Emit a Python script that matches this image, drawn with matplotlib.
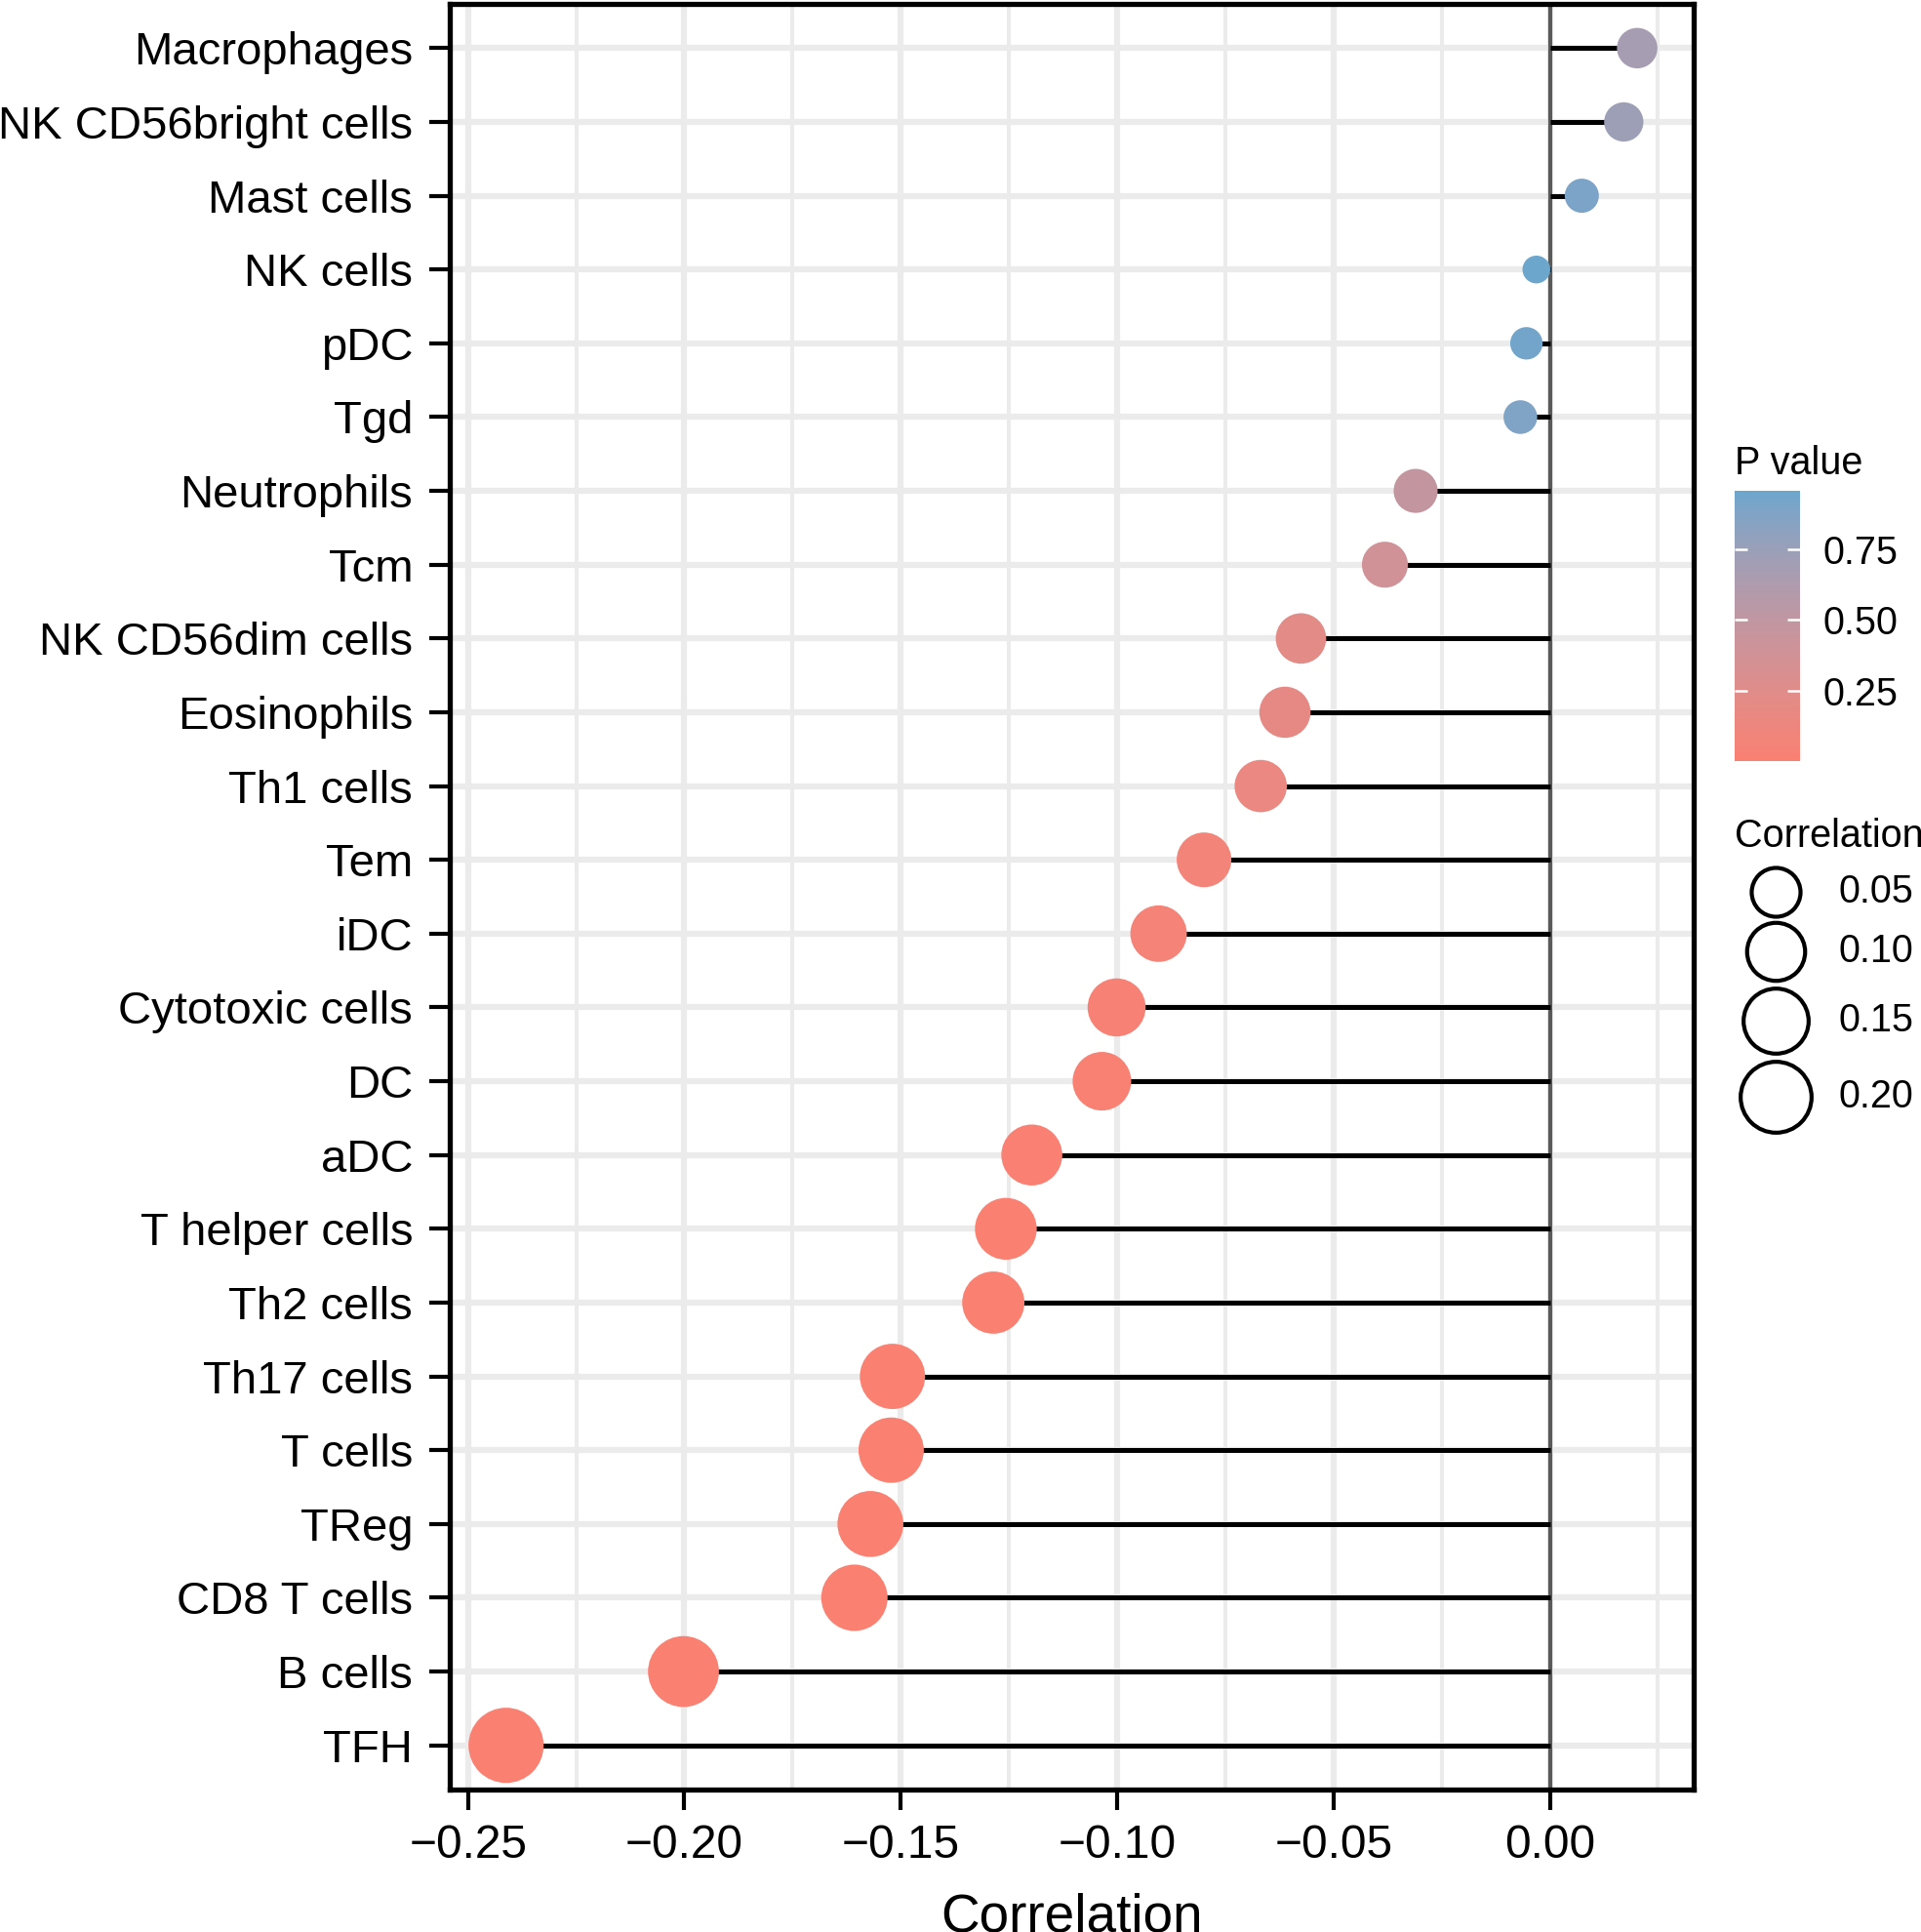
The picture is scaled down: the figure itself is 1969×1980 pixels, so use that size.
import numpy as np
import matplotlib
matplotlib.use("Agg")
import matplotlib.pyplot as plt
from matplotlib.colors import ListedColormap, Normalize, to_rgb
from matplotlib.cm import ScalarMappable

plt.rcParams['font.family'] = ['Liberation Sans', 'DejaVu Sans']

# Data (top to bottom as drawn)
cells = ["Macrophages", "NK CD56bright cells", "Mast cells", "NK cells", "pDC", "Tgd",
         "Neutrophils", "Tcm", "NK CD56dim cells", "Eosinophils", "Th1 cells", "Tem",
         "iDC", "Cytotoxic cells", "DC", "aDC", "T helper cells", "Th2 cells",
         "Th17 cells", "T cells", "TReg", "CD8 T cells", "B cells", "TFH"]
correlation = [0.0202, 0.0171, 0.0074, -0.0031, -0.0054, -0.0068,
               -0.0310, -0.0381, -0.0575, -0.0612, -0.0668, -0.0799,
               -0.0904, -0.1001, -0.1035, -0.1197, -0.1257, -0.1286,
               -0.1519, -0.1522, -0.1570, -0.1607, -0.2002, -0.2412]
p_value = [0.67, 0.73, 0.90, 0.957, 0.93, 0.88,
           0.48, 0.38, 0.22, 0.19, 0.16, 0.08,
           0.05, 0.03, 0.025, 0.008, 0.006, 0.005,
           0.001, 0.001, 0.001, 0.0008, 0.0002, 0.0001]
size_breaks = [0.05, 0.10, 0.15, 0.20]
cbar_ticks = [0.25, 0.50, 0.75]
x_ticks = [-0.25, -0.20, -0.15, -0.10, -0.05, 0.00]

corr = np.array(correlation)
pv = np.array(p_value)
ypos = np.arange(len(cells))[::-1]

# size scale: ggplot-like area scale on |correlation|
absc = np.abs(corr)
amin, amax = absc.min(), absc.max()
dmin, dmax = 20.5, 55.5


def diam(v):
    r = np.clip((np.asarray(v) - amin) / (amax - amin), 0, 1)
    return dmin + (dmax - dmin) * np.sqrt(r)


# gradient interpolated in Lab space, like ggplot's scale_colour_gradient
WHITE = np.array([0.95047, 1.0, 1.08883])
M = np.array([[0.4124, 0.3576, 0.1805],
              [0.2126, 0.7152, 0.0722],
              [0.0193, 0.1192, 0.9505]])


def rgb2lab(c):
    c = np.array(c)
    lin = np.where(c <= 0.04045, c / 12.92, ((c + 0.055) / 1.055) ** 2.4)
    xyz = M @ lin / WHITE
    f = np.where(xyz > 0.008856, np.cbrt(xyz), 7.787 * xyz + 16 / 116)
    return np.array([116 * f[1] - 16, 500 * (f[0] - f[1]), 200 * (f[1] - f[2])])


def lab2rgb(lab):
    fy = (lab[0] + 16) / 116
    fx = fy + lab[1] / 500
    fz = fy - lab[2] / 200
    f = np.array([fx, fy, fz])
    xyz = np.where(f ** 3 > 0.008856, f ** 3, (f - 16 / 116) / 7.787) * WHITE
    lin = np.linalg.solve(M, xyz)
    c = np.where(lin <= 0.0031308, 12.92 * lin, 1.055 * np.clip(lin, 0, None) ** (1 / 2.4) - 0.055)
    return np.clip(c, 0, 1)


lab_lo = rgb2lab(to_rgb("#FA8072"))
lab_hi = rgb2lab(to_rgb("#6CA6CD"))
cmap = ListedColormap([lab2rgb(lab_lo + t * (lab_hi - lab_lo)) for t in np.linspace(0, 1, 256)])
norm = Normalize(vmin=pv.min(), vmax=pv.max())

fig = plt.figure(figsize=(19.69, 19.80), dpi=100)
ax = fig.add_axes([0.234, 0.0737, 0.8817 - 0.234, 0.998 - 0.0737])

rng = corr.max() - corr.min()
ax.set_xlim(corr.min() - 0.05 * rng, corr.max() + 0.05 * rng)
ax.set_ylim(-0.6, len(cells) - 0.4)

# grid
for xv in x_ticks:
    ax.axvline(xv, color="#EBEBEB", lw=4.5, zorder=0)
for xv in np.arange(-0.225, 0.03, 0.05):
    ax.axvline(xv, color="#EBEBEB", lw=2.9, zorder=0)
for yv in ypos:
    ax.axhline(yv, color="#EBEBEB", lw=4.5, zorder=0)

ax.axvline(0, color="#5A5A5A", lw=3.0, zorder=1)
ax.hlines(ypos, 0, corr, color="black", lw=3.6, zorder=2)
ax.scatter(corr, ypos, s=diam(absc) ** 2, c=pv, cmap=cmap, norm=norm,
           linewidths=0, zorder=3)

ax.set_yticks(ypos)
ax.set_yticklabels(cells)
ax.set_xticks(x_ticks)
ax.set_xticklabels([f"{t:.2f}".replace("-", "\u2212") for t in x_ticks])
ax.tick_params(axis="y", length=15, width=3.0, pad=12, labelsize=34)
ax.tick_params(axis="x", length=15, width=3.0, pad=10, labelsize=34.5)
for sp in ax.spines.values():
    sp.set_linewidth(3.8)

fig.text((0.234 + 0.8817) / 2, 0.0, "Correlation", ha="center", va="baseline",
         fontsize=39.5)

# colour bar legend
cax = fig.add_axes([0.9031, 0.6059, 0.9371 - 0.9031, 0.7462 - 0.6059])
cb = fig.colorbar(ScalarMappable(norm=norm, cmap=cmap), cax=cax, ticks=cbar_ticks)
cb.outline.set_visible(False)
cb.set_ticklabels([f"{t:.2f}" for t in cbar_ticks])
cax.tick_params(axis="y", left=True, right=True, direction="in", length=9.6,
                width=1.8, color="white", labelsize=28.5, pad=17)
fig.text(0.9031, 0.760, "P value", ha="left", va="center", fontsize=28.5)

# size legend
fig.text(0.9031, 0.567, "Correlation", ha="left", va="center", fontsize=28.5)
leg_y = [0.5383, 0.5077, 0.4719, 0.4324]
for b, yy in zip(size_breaks, leg_y):
    fig.add_artist(plt.Line2D([0.9243], [yy], marker="o", markersize=float(diam(b)),
                              markerfacecolor="none", markeredgecolor="black",
                              markeredgewidth=3.0, linestyle="none",
                              transform=fig.transFigure))
    fig.text(0.957, yy, f"{b:.2f}", ha="left", va="center", fontsize=28.5)

fig.savefig("out.png", dpi=100)
